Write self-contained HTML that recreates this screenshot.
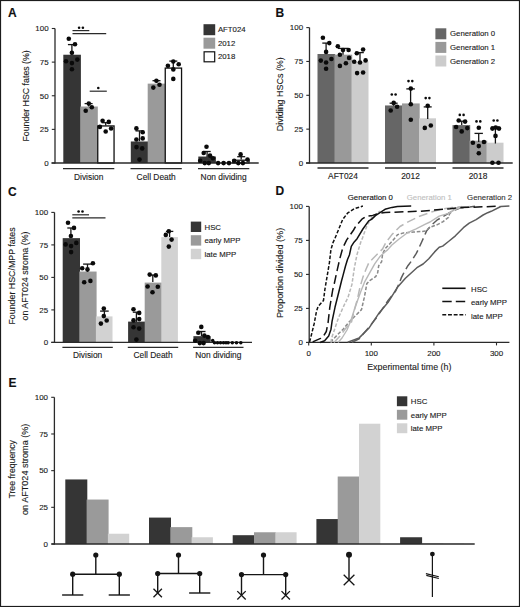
<!DOCTYPE html>
<html><head><meta charset="utf-8"><style>
html,body{margin:0;padding:0;background:#fff;}
body{width:520px;height:607px;overflow:hidden;}
svg{display:block;font-family:"Liberation Sans", sans-serif;}
text{stroke-width:0.12px;}
</style></head><body>
<svg width="520" height="607" viewBox="0 0 520 607">
<rect x="0" y="0" width="520" height="607" fill="#fff"/>
<text x="8.00" y="16.60" font-size="12" text-anchor="start" fill="#111" stroke="#111" font-weight="bold" >A</text>
<text x="275.50" y="16.80" font-size="12" text-anchor="start" fill="#111" stroke="#111" font-weight="bold" >B</text>
<text x="8.00" y="195.80" font-size="12" text-anchor="start" fill="#111" stroke="#111" font-weight="bold" >C</text>
<text x="275.50" y="195.40" font-size="12" text-anchor="start" fill="#111" stroke="#111" font-weight="bold" >D</text>
<text x="8.50" y="386.60" font-size="12" text-anchor="start" fill="#111" stroke="#111" font-weight="bold" >E</text>
<rect x="63.30" y="54.73" width="17.60" height="108.27" fill="#353535"/>
<rect x="80.20" y="106.51" width="17.60" height="56.49" fill="#9a9a9a"/>
<rect x="97.75" y="125.94" width="16.30" height="37.06" fill="#ffffff" stroke="#111" stroke-width="1.3"/>
<rect x="130.80" y="141.48" width="17.60" height="21.52" fill="#353535"/>
<rect x="147.70" y="83.64" width="17.60" height="79.36" fill="#9a9a9a"/>
<rect x="165.25" y="68.10" width="16.30" height="94.90" fill="#ffffff" stroke="#111" stroke-width="1.3"/>
<rect x="198.30" y="156.54" width="17.60" height="6.46" fill="#353535"/>
<rect x="215.20" y="163.00" width="17.60" height="0.00" fill="#9a9a9a"/>
<rect x="232.75" y="160.24" width="16.30" height="2.76" fill="#ffffff" stroke="#111" stroke-width="1.3"/>
<line x1="51.50" y1="163.00" x2="258.70" y2="163.00" stroke="#2a2a2a" stroke-width="1.3" />
<line x1="55.00" y1="28.50" x2="55.00" y2="163.60" stroke="#2a2a2a" stroke-width="1.3" />
<line x1="51.80" y1="163.00" x2="55.00" y2="163.00" stroke="#2a2a2a" stroke-width="1.1" />
<text x="48.60" y="165.80" font-size="7.95" text-anchor="end" fill="#1a1a1a" stroke="#1a1a1a" font-weight="normal" >0</text>
<line x1="51.80" y1="129.38" x2="55.00" y2="129.38" stroke="#2a2a2a" stroke-width="1.1" />
<text x="48.60" y="132.18" font-size="7.95" text-anchor="end" fill="#1a1a1a" stroke="#1a1a1a" font-weight="normal" >25</text>
<line x1="51.80" y1="95.75" x2="55.00" y2="95.75" stroke="#2a2a2a" stroke-width="1.1" />
<text x="48.60" y="98.55" font-size="7.95" text-anchor="end" fill="#1a1a1a" stroke="#1a1a1a" font-weight="normal" >50</text>
<line x1="51.80" y1="62.12" x2="55.00" y2="62.12" stroke="#2a2a2a" stroke-width="1.1" />
<text x="48.60" y="64.92" font-size="7.95" text-anchor="end" fill="#1a1a1a" stroke="#1a1a1a" font-weight="normal" >75</text>
<line x1="51.80" y1="28.50" x2="55.00" y2="28.50" stroke="#2a2a2a" stroke-width="1.1" />
<text x="48.60" y="31.30" font-size="7.95" text-anchor="end" fill="#1a1a1a" stroke="#1a1a1a" font-weight="normal" >100</text>
<line x1="63.00" y1="168.70" x2="114.30" y2="168.70" stroke="#2a2a2a" stroke-width="1.3" />
<text x="88.65" y="179.60" font-size="8.4" text-anchor="middle" fill="#1a1a1a" stroke="#1a1a1a" font-weight="normal" >Division</text>
<line x1="130.50" y1="168.70" x2="181.80" y2="168.70" stroke="#2a2a2a" stroke-width="1.3" />
<text x="156.15" y="179.60" font-size="8.4" text-anchor="middle" fill="#1a1a1a" stroke="#1a1a1a" font-weight="normal" >Cell Death</text>
<line x1="198.00" y1="168.70" x2="249.30" y2="168.70" stroke="#2a2a2a" stroke-width="1.3" />
<text x="223.65" y="179.60" font-size="8.4" text-anchor="middle" fill="#1a1a1a" stroke="#1a1a1a" font-weight="normal" >Non dividing</text>
<text x="0" y="0" font-size="8.8" text-anchor="middle" fill="#1a1a1a" stroke="#1a1a1a" transform="translate(28.50,95.90) rotate(-90)">Founder HSC fates (%)</text>
<rect x="203.50" y="24.20" width="11.70" height="11.00" fill="#353535"/>
<text x="217.90" y="32.40" font-size="7.8" text-anchor="start" fill="#1a1a1a" stroke="#1a1a1a" font-weight="normal" >AFT024</text>
<rect x="203.50" y="37.70" width="11.70" height="11.00" fill="#9a9a9a"/>
<text x="217.90" y="45.90" font-size="7.8" text-anchor="start" fill="#1a1a1a" stroke="#1a1a1a" font-weight="normal" >2012</text>
<rect x="204.10" y="51.80" width="10.60" height="10.00" fill="#fff" stroke="#111" stroke-width="1.2"/>
<text x="217.90" y="59.40" font-size="7.8" text-anchor="start" fill="#1a1a1a" stroke="#1a1a1a" font-weight="normal" >2018</text>
<line x1="72.50" y1="30.60" x2="89.30" y2="30.60" stroke="#2a2a2a" stroke-width="1.2" />
<line x1="72.50" y1="33.60" x2="106.20" y2="33.60" stroke="#2a2a2a" stroke-width="1.2" />
<line x1="89.70" y1="91.20" x2="106.80" y2="91.20" stroke="#2a2a2a" stroke-width="1.2" />
<rect x="317.50" y="54.00" width="17.70" height="109.00" fill="#666666"/>
<rect x="334.50" y="54.68" width="17.70" height="108.32" fill="#999999"/>
<rect x="351.50" y="61.45" width="17.00" height="101.55" fill="#cccccc"/>
<rect x="385.00" y="105.45" width="17.70" height="57.55" fill="#666666"/>
<rect x="402.00" y="103.42" width="17.70" height="59.58" fill="#999999"/>
<rect x="419.00" y="118.32" width="17.00" height="44.68" fill="#cccccc"/>
<rect x="452.50" y="125.09" width="17.70" height="37.91" fill="#666666"/>
<rect x="469.50" y="140.66" width="17.70" height="22.34" fill="#999999"/>
<rect x="486.50" y="142.69" width="17.00" height="20.31" fill="#cccccc"/>
<line x1="306.00" y1="163.00" x2="512.70" y2="163.00" stroke="#2a2a2a" stroke-width="1.3" />
<line x1="309.50" y1="27.60" x2="309.50" y2="163.60" stroke="#2a2a2a" stroke-width="1.3" />
<line x1="306.30" y1="163.00" x2="309.50" y2="163.00" stroke="#2a2a2a" stroke-width="1.1" />
<text x="303.10" y="165.80" font-size="7.95" text-anchor="end" fill="#1a1a1a" stroke="#1a1a1a" font-weight="normal" >0</text>
<line x1="306.30" y1="129.15" x2="309.50" y2="129.15" stroke="#2a2a2a" stroke-width="1.1" />
<text x="303.10" y="131.95" font-size="7.95" text-anchor="end" fill="#1a1a1a" stroke="#1a1a1a" font-weight="normal" >25</text>
<line x1="306.30" y1="95.30" x2="309.50" y2="95.30" stroke="#2a2a2a" stroke-width="1.1" />
<text x="303.10" y="98.10" font-size="7.95" text-anchor="end" fill="#1a1a1a" stroke="#1a1a1a" font-weight="normal" >50</text>
<line x1="306.30" y1="61.45" x2="309.50" y2="61.45" stroke="#2a2a2a" stroke-width="1.1" />
<text x="303.10" y="64.25" font-size="7.95" text-anchor="end" fill="#1a1a1a" stroke="#1a1a1a" font-weight="normal" >75</text>
<line x1="306.30" y1="27.60" x2="309.50" y2="27.60" stroke="#2a2a2a" stroke-width="1.1" />
<text x="303.10" y="30.40" font-size="7.95" text-anchor="end" fill="#1a1a1a" stroke="#1a1a1a" font-weight="normal" >100</text>
<line x1="317.50" y1="168.00" x2="368.50" y2="168.00" stroke="#2a2a2a" stroke-width="1.3" />
<text x="343.00" y="178.60" font-size="8.4" text-anchor="middle" fill="#1a1a1a" stroke="#1a1a1a" font-weight="normal" >AFT024</text>
<line x1="385.00" y1="168.00" x2="436.00" y2="168.00" stroke="#2a2a2a" stroke-width="1.3" />
<text x="410.50" y="178.60" font-size="8.4" text-anchor="middle" fill="#1a1a1a" stroke="#1a1a1a" font-weight="normal" >2012</text>
<line x1="452.50" y1="168.00" x2="503.50" y2="168.00" stroke="#2a2a2a" stroke-width="1.3" />
<text x="478.00" y="178.60" font-size="8.4" text-anchor="middle" fill="#1a1a1a" stroke="#1a1a1a" font-weight="normal" >2018</text>
<text x="0" y="0" font-size="8.95" text-anchor="middle" fill="#1a1a1a" stroke="#1a1a1a" transform="translate(282.50,94.20) rotate(-90)">Dividing HSCs (%)</text>
<rect x="435.40" y="28.30" width="10.90" height="11.00" fill="#666666"/>
<text x="450.00" y="36.40" font-size="7.8" text-anchor="start" fill="#1a1a1a" stroke="#1a1a1a" font-weight="normal" >Generation 0</text>
<rect x="435.40" y="41.90" width="10.90" height="11.00" fill="#999999"/>
<text x="450.00" y="50.00" font-size="7.8" text-anchor="start" fill="#1a1a1a" stroke="#1a1a1a" font-weight="normal" >Generation 1</text>
<rect x="435.40" y="55.50" width="10.90" height="11.00" fill="#cccccc"/>
<text x="450.00" y="63.60" font-size="7.8" text-anchor="start" fill="#1a1a1a" stroke="#1a1a1a" font-weight="normal" >Generation 2</text>
<rect x="62.70" y="238.14" width="17.30" height="104.26" fill="#353535"/>
<rect x="79.30" y="271.55" width="17.30" height="70.85" fill="#9a9a9a"/>
<rect x="95.90" y="316.40" width="16.60" height="26.00" fill="#d2d2d2"/>
<rect x="128.10" y="321.60" width="17.30" height="20.80" fill="#353535"/>
<rect x="144.70" y="282.60" width="17.30" height="59.80" fill="#9a9a9a"/>
<rect x="161.30" y="237.10" width="16.60" height="105.30" fill="#d2d2d2"/>
<rect x="193.40" y="336.16" width="17.30" height="6.24" fill="#353535"/>
<rect x="210.00" y="341.62" width="17.30" height="0.78" fill="#9a9a9a"/>
<rect x="226.60" y="341.88" width="16.60" height="0.52" fill="#d2d2d2"/>
<line x1="51.30" y1="342.40" x2="252.00" y2="342.40" stroke="#2a2a2a" stroke-width="1.3" />
<line x1="54.50" y1="212.40" x2="54.50" y2="343.00" stroke="#2a2a2a" stroke-width="1.3" />
<line x1="51.30" y1="342.40" x2="54.50" y2="342.40" stroke="#2a2a2a" stroke-width="1.1" />
<text x="48.10" y="345.20" font-size="7.95" text-anchor="end" fill="#1a1a1a" stroke="#1a1a1a" font-weight="normal" >0</text>
<line x1="51.30" y1="309.90" x2="54.50" y2="309.90" stroke="#2a2a2a" stroke-width="1.1" />
<text x="48.10" y="312.70" font-size="7.95" text-anchor="end" fill="#1a1a1a" stroke="#1a1a1a" font-weight="normal" >25</text>
<line x1="51.30" y1="277.40" x2="54.50" y2="277.40" stroke="#2a2a2a" stroke-width="1.1" />
<text x="48.10" y="280.20" font-size="7.95" text-anchor="end" fill="#1a1a1a" stroke="#1a1a1a" font-weight="normal" >50</text>
<line x1="51.30" y1="244.90" x2="54.50" y2="244.90" stroke="#2a2a2a" stroke-width="1.1" />
<text x="48.10" y="247.70" font-size="7.95" text-anchor="end" fill="#1a1a1a" stroke="#1a1a1a" font-weight="normal" >75</text>
<line x1="51.30" y1="212.40" x2="54.50" y2="212.40" stroke="#2a2a2a" stroke-width="1.1" />
<text x="48.10" y="215.20" font-size="7.95" text-anchor="end" fill="#1a1a1a" stroke="#1a1a1a" font-weight="normal" >100</text>
<line x1="62.40" y1="347.40" x2="112.80" y2="347.40" stroke="#2a2a2a" stroke-width="1.3" />
<text x="87.60" y="358.00" font-size="8.4" text-anchor="middle" fill="#1a1a1a" stroke="#1a1a1a" font-weight="normal" >Division</text>
<line x1="127.80" y1="347.40" x2="178.20" y2="347.40" stroke="#2a2a2a" stroke-width="1.3" />
<text x="153.00" y="358.00" font-size="8.4" text-anchor="middle" fill="#1a1a1a" stroke="#1a1a1a" font-weight="normal" >Cell Death</text>
<line x1="193.10" y1="347.40" x2="243.50" y2="347.40" stroke="#2a2a2a" stroke-width="1.3" />
<text x="218.30" y="358.00" font-size="8.4" text-anchor="middle" fill="#1a1a1a" stroke="#1a1a1a" font-weight="normal" >Non dividing</text>
<text x="0" y="0" font-size="8.85" text-anchor="middle" fill="#1a1a1a" stroke="#1a1a1a" transform="translate(15.20,276.00) rotate(-90)">Founder HSC/MPP fates</text>
<text x="0" y="0" font-size="8.85" text-anchor="middle" fill="#1a1a1a" stroke="#1a1a1a" transform="translate(27.80,276.00) rotate(-90)">on AFT024 stroma (%)</text>
<rect x="190.80" y="221.60" width="10.40" height="10.40" fill="#353535"/>
<text x="204.50" y="229.50" font-size="7.8" text-anchor="start" fill="#1a1a1a" stroke="#1a1a1a" font-weight="normal" >HSC</text>
<rect x="190.80" y="235.20" width="10.40" height="10.40" fill="#9a9a9a"/>
<text x="204.50" y="243.10" font-size="7.8" text-anchor="start" fill="#1a1a1a" stroke="#1a1a1a" font-weight="normal" >early MPP</text>
<rect x="190.80" y="248.80" width="10.40" height="10.40" fill="#d2d2d2"/>
<text x="204.50" y="256.70" font-size="7.8" text-anchor="start" fill="#1a1a1a" stroke="#1a1a1a" font-weight="normal" >late MPP</text>
<line x1="72.30" y1="214.80" x2="89.00" y2="214.80" stroke="#2a2a2a" stroke-width="1.2" />
<line x1="72.30" y1="217.90" x2="105.50" y2="217.90" stroke="#2a2a2a" stroke-width="1.2" />
<line x1="308.70" y1="342.40" x2="509.40" y2="342.40" stroke="#2a2a2a" stroke-width="1.3" />
<line x1="309.20" y1="206.40" x2="309.20" y2="343.00" stroke="#2a2a2a" stroke-width="1.3" />
<line x1="306.00" y1="342.40" x2="309.20" y2="342.40" stroke="#2a2a2a" stroke-width="1.1" />
<text x="302.80" y="345.20" font-size="7.95" text-anchor="end" fill="#1a1a1a" stroke="#1a1a1a" font-weight="normal" >0</text>
<line x1="306.00" y1="308.40" x2="309.20" y2="308.40" stroke="#2a2a2a" stroke-width="1.1" />
<text x="302.80" y="311.20" font-size="7.95" text-anchor="end" fill="#1a1a1a" stroke="#1a1a1a" font-weight="normal" >25</text>
<line x1="306.00" y1="274.40" x2="309.20" y2="274.40" stroke="#2a2a2a" stroke-width="1.1" />
<text x="302.80" y="277.20" font-size="7.95" text-anchor="end" fill="#1a1a1a" stroke="#1a1a1a" font-weight="normal" >50</text>
<line x1="306.00" y1="240.40" x2="309.20" y2="240.40" stroke="#2a2a2a" stroke-width="1.1" />
<text x="302.80" y="243.20" font-size="7.95" text-anchor="end" fill="#1a1a1a" stroke="#1a1a1a" font-weight="normal" >75</text>
<line x1="306.00" y1="206.40" x2="309.20" y2="206.40" stroke="#2a2a2a" stroke-width="1.1" />
<text x="302.80" y="209.20" font-size="7.95" text-anchor="end" fill="#1a1a1a" stroke="#1a1a1a" font-weight="normal" >100</text>
<line x1="308.70" y1="342.40" x2="308.70" y2="345.40" stroke="#2a2a2a" stroke-width="1.1" />
<text x="308.70" y="355.80" font-size="7.95" text-anchor="middle" fill="#1a1a1a" stroke="#1a1a1a" font-weight="normal" >0</text>
<line x1="371.30" y1="342.40" x2="371.30" y2="345.40" stroke="#2a2a2a" stroke-width="1.1" />
<text x="371.30" y="355.80" font-size="7.95" text-anchor="middle" fill="#1a1a1a" stroke="#1a1a1a" font-weight="normal" >100</text>
<line x1="433.90" y1="342.40" x2="433.90" y2="345.40" stroke="#2a2a2a" stroke-width="1.1" />
<text x="433.90" y="355.80" font-size="7.95" text-anchor="middle" fill="#1a1a1a" stroke="#1a1a1a" font-weight="normal" >200</text>
<line x1="496.50" y1="342.40" x2="496.50" y2="345.40" stroke="#2a2a2a" stroke-width="1.1" />
<text x="496.50" y="355.80" font-size="7.95" text-anchor="middle" fill="#1a1a1a" stroke="#1a1a1a" font-weight="normal" >300</text>
<text x="409.30" y="370.30" font-size="9.8" text-anchor="middle" fill="#1a1a1a" stroke="#1a1a1a" font-weight="normal" textLength="84.2" lengthAdjust="spacingAndGlyphs">Experimental time (h)</text>
<text x="0" y="0" font-size="9.15" text-anchor="middle" fill="#1a1a1a" stroke="#1a1a1a" transform="translate(282.60,272.90) rotate(-90)">Proportion divided (%)</text>
<text x="347.80" y="200.40" font-size="7.8" text-anchor="start" fill="#111" stroke="#111" font-weight="normal" >Generation 0</text>
<text x="406.80" y="200.40" font-size="7.8" text-anchor="start" fill="#c0c0c0" stroke="#c0c0c0" font-weight="normal" >Generation 1</text>
<text x="467.10" y="200.00" font-size="7.8" text-anchor="start" fill="#333" stroke="#333" font-weight="normal" >Generation 2</text>
<line x1="442.30" y1="288.30" x2="465.60" y2="288.30" stroke="#111" stroke-width="1.6" />
<line x1="442.30" y1="301.50" x2="465.20" y2="301.50" stroke="#111" stroke-width="1.6" stroke-dasharray="9.4 4.1"/>
<line x1="442.30" y1="314.80" x2="465.70" y2="314.80" stroke="#111" stroke-width="1.6" stroke-dasharray="3.9 1.8"/>
<text x="471.00" y="291.70" font-size="7.8" text-anchor="start" fill="#1a1a1a" stroke="#1a1a1a" font-weight="normal" >HSC</text>
<text x="471.00" y="305.40" font-size="7.8" text-anchor="start" fill="#1a1a1a" stroke="#1a1a1a" font-weight="normal" >early MPP</text>
<text x="471.00" y="318.70" font-size="7.8" text-anchor="start" fill="#1a1a1a" stroke="#1a1a1a" font-weight="normal" >late MPP</text>
<path d="M347.70,342.20 L359.20,337.90 L368.80,328.30 L378.50,313.80 L388.10,302.30 L397.70,286.90 L405.40,278.30 L416.90,267.70 L423.10,264.00 L428.80,258.80 L434.60,251.90 L439.20,247.30 L442.70,246.10 L448.50,241.50 L455.40,235.80 L463.40,227.70 L469.20,223.10 L476.10,219.60 L483.10,215.00 L487.70,212.70 L491.20,211.30 L500.80,206.50 L509.40,206.00" fill="none" stroke="#5c5c5c" stroke-width="1.5" stroke-linejoin="round"/>
<path d="M352.00,342.20 L359.20,338.80 L368.80,327.30 L376.50,317.70 L388.10,300.40 L395.80,290.80 L399.50,282.60 L401.40,277.60 L404.40,271.70 L407.90,265.70 L411.30,261.30 L416.30,253.40 L418.30,249.40 L421.90,241.50 L426.50,231.10 L431.10,225.40 L436.90,220.20 L443.80,216.10 L449.60,212.70 L454.20,210.40 L460.00,208.10 L475.00,206.30" fill="none" stroke="#5c5c5c" stroke-width="1.5" stroke-linejoin="round" stroke-dasharray="9.0 4.2"/>
<path d="M331.00,342.50 L332.70,339.60 L337.30,335.00 L343.10,329.20 L348.80,322.30 L354.60,316.50 L359.20,311.90 L361.50,309.60 L363.00,303.00 L364.30,297.40 L365.80,289.50 L366.80,283.60 L369.80,280.60 L375.70,276.60 L377.70,272.70 L378.70,265.70 L381.60,261.80 L382.60,253.90 L385.50,248.30 L391.90,241.50 L397.70,234.60 L403.50,232.90 L413.80,232.10 L425.40,231.10 L430.00,227.30 L436.90,224.80 L442.70,221.90 L448.50,217.30 L449.60,213.80 L451.90,211.50 L455.00,208.50 L462.00,206.50" fill="none" stroke="#8a8a8a" stroke-width="1.5" stroke-linejoin="round" stroke-dasharray="3.6 1.8"/>
<path d="M338.00,342.50 L342.00,338.00 L347.00,330.00 L351.10,320.00 L354.00,310.80 L357.90,299.40 L360.80,291.50 L364.80,281.60 L369.80,272.70 L374.70,263.80 L379.70,256.80 L385.00,251.90 L387.60,249.90 L391.90,245.00 L398.80,239.20 L408.10,232.30 L416.10,228.80 L425.40,224.20 L430.00,222.00 L439.20,216.10 L448.50,213.30 L453.10,210.40 L460.00,207.60 L470.00,206.50" fill="none" stroke="#b8b8b8" stroke-width="1.4" stroke-linejoin="round"/>
<path d="M334.00,342.50 L340.00,336.00 L346.00,328.00 L351.50,322.00 L354.00,311.00 L357.40,299.40 L359.90,287.50 L362.80,277.60 L365.80,269.70 L368.80,262.80 L373.70,257.80 L382.60,248.90 L386.00,242.30 L391.90,234.60 L400.00,226.50 L408.10,221.90 L419.60,216.20 L430.00,212.50 L440.00,209.50 L452.00,207.50 L470.00,206.50" fill="none" stroke="#b8b8b8" stroke-width="1.5" stroke-linejoin="round" stroke-dasharray="9.0 4.2"/>
<path d="M331.00,342.50 L331.50,338.40 L335.00,328.10 L338.50,317.70 L344.20,305.00 L348.00,297.40 L351.90,284.60 L354.40,267.70 L356.90,254.90 L360.80,242.00 L362.50,238.00 L365.00,230.80 L367.30,225.00 L372.00,217.00 L380.00,211.00" fill="none" stroke="#b8b8b8" stroke-width="1.5" stroke-linejoin="round" stroke-dasharray="3.6 1.8"/>
<path d="M309.60,341.90 L311.20,335.80 L314.20,323.50 L316.50,311.20 L318.10,306.50 L323.50,300.40 L324.90,289.40 L327.40,274.60 L329.40,262.70 L330.90,249.80 L332.90,242.90 L335.00,238.20 L338.80,229.00 L342.70,219.40 L347.50,213.20 L354.20,208.80 L362.90,206.00" fill="none" stroke="#111111" stroke-width="1.5" stroke-linejoin="round" stroke-dasharray="3.6 1.8"/>
<path d="M312.70,341.90 L320.60,338.40 L323.50,336.10 L326.30,331.50 L328.10,322.30 L329.80,307.30 L332.70,290.00 L334.30,283.50 L337.30,269.60 L339.80,258.70 L342.80,247.80 L346.70,239.90 L353.60,230.00 L355.80,226.20 L361.90,219.20 L366.50,216.20 L372.70,215.40 L378.80,213.50 L385.00,212.50 L420.00,211.20 L450.00,208.70 L460.00,207.60 L500.00,206.20" fill="none" stroke="#111111" stroke-width="1.5" stroke-linejoin="round" stroke-dasharray="9.0 4.2"/>
<path d="M320.00,342.50 L324.60,340.80 L328.70,336.10 L331.00,329.20 L332.10,321.10 L335.00,307.30 L338.80,292.00 L341.50,281.00 L343.10,275.10 L345.50,266.00 L347.50,259.50 L349.40,255.00 L351.30,246.30 L354.00,242.20 L357.10,238.70 L362.90,229.00 L368.70,220.90 L371.50,219.40 L375.40,215.60 L385.00,209.30 L391.90,207.40 L397.40,206.50 L411.20,206.10" fill="none" stroke="#111111" stroke-width="1.5" stroke-linejoin="round"/>
<rect x="65.30" y="479.45" width="22.00" height="64.55" fill="#353535"/>
<rect x="86.60" y="499.55" width="22.00" height="44.45" fill="#9a9a9a"/>
<rect x="107.90" y="533.73" width="21.30" height="10.27" fill="#d2d2d2"/>
<rect x="149.00" y="517.59" width="22.00" height="26.41" fill="#353535"/>
<rect x="170.30" y="527.13" width="22.00" height="16.87" fill="#9a9a9a"/>
<rect x="191.60" y="537.25" width="21.30" height="6.75" fill="#d2d2d2"/>
<rect x="232.70" y="535.20" width="22.00" height="8.80" fill="#353535"/>
<rect x="254.00" y="532.26" width="22.00" height="11.74" fill="#9a9a9a"/>
<rect x="275.30" y="532.26" width="21.30" height="11.74" fill="#d2d2d2"/>
<rect x="316.40" y="519.06" width="22.00" height="24.94" fill="#353535"/>
<rect x="337.70" y="476.52" width="22.00" height="67.48" fill="#9a9a9a"/>
<rect x="359.00" y="423.71" width="21.30" height="120.29" fill="#d2d2d2"/>
<rect x="400.10" y="537.25" width="22.00" height="6.75" fill="#353535"/>
<rect x="421.40" y="543.56" width="22.00" height="0.44" fill="#9a9a9a"/>
<rect x="442.70" y="543.56" width="21.30" height="0.44" fill="#d2d2d2"/>
<line x1="51.50" y1="544.00" x2="474.70" y2="544.00" stroke="#2a2a2a" stroke-width="1.3" />
<line x1="54.40" y1="397.30" x2="54.40" y2="544.60" stroke="#2a2a2a" stroke-width="1.3" />
<line x1="51.20" y1="544.00" x2="54.40" y2="544.00" stroke="#2a2a2a" stroke-width="1.1" />
<text x="48.00" y="546.80" font-size="7.95" text-anchor="end" fill="#1a1a1a" stroke="#1a1a1a" font-weight="normal" >0</text>
<line x1="51.20" y1="507.32" x2="54.40" y2="507.32" stroke="#2a2a2a" stroke-width="1.1" />
<text x="48.00" y="510.12" font-size="7.95" text-anchor="end" fill="#1a1a1a" stroke="#1a1a1a" font-weight="normal" >25</text>
<line x1="51.20" y1="470.65" x2="54.40" y2="470.65" stroke="#2a2a2a" stroke-width="1.1" />
<text x="48.00" y="473.45" font-size="7.95" text-anchor="end" fill="#1a1a1a" stroke="#1a1a1a" font-weight="normal" >50</text>
<line x1="51.20" y1="433.98" x2="54.40" y2="433.98" stroke="#2a2a2a" stroke-width="1.1" />
<text x="48.00" y="436.78" font-size="7.95" text-anchor="end" fill="#1a1a1a" stroke="#1a1a1a" font-weight="normal" >75</text>
<line x1="51.20" y1="397.30" x2="54.40" y2="397.30" stroke="#2a2a2a" stroke-width="1.1" />
<text x="48.00" y="400.10" font-size="7.95" text-anchor="end" fill="#1a1a1a" stroke="#1a1a1a" font-weight="normal" >100</text>
<text x="0" y="0" font-size="8.75" text-anchor="middle" fill="#1a1a1a" stroke="#1a1a1a" transform="translate(15.18,469.30) rotate(-90)">Tree frequency</text>
<text x="0" y="0" font-size="9.08" text-anchor="middle" fill="#1a1a1a" stroke="#1a1a1a" transform="translate(28.03,469.30) rotate(-90)">on AFT024 stroma (%)</text>
<rect x="396.90" y="396.30" width="10.40" height="9.90" fill="#353535"/>
<text x="410.80" y="404.20" font-size="7.8" text-anchor="start" fill="#1a1a1a" stroke="#1a1a1a" font-weight="normal" >HSC</text>
<rect x="396.90" y="409.80" width="10.40" height="9.90" fill="#9a9a9a"/>
<text x="410.80" y="417.70" font-size="7.8" text-anchor="start" fill="#1a1a1a" stroke="#1a1a1a" font-weight="normal" >early MPP</text>
<rect x="396.90" y="423.30" width="10.40" height="9.90" fill="#d2d2d2"/>
<text x="410.80" y="431.20" font-size="7.8" text-anchor="start" fill="#1a1a1a" stroke="#1a1a1a" font-weight="normal" >late MPP</text>
<line x1="95.80" y1="555.00" x2="95.80" y2="574.20" stroke="#151515" stroke-width="1.4" />
<line x1="72.70" y1="574.20" x2="119.30" y2="574.20" stroke="#151515" stroke-width="1.4" />
<circle cx="95.8" cy="555.0" r="2.6" fill="#151515"/>
<circle cx="72.7" cy="574.2" r="2.6" fill="#151515"/>
<circle cx="119.3" cy="574.2" r="2.6" fill="#151515"/>
<line x1="72.70" y1="574.20" x2="72.70" y2="595.00" stroke="#151515" stroke-width="1.4" />
<line x1="62.10" y1="595.00" x2="83.30" y2="595.00" stroke="#151515" stroke-width="1.4" />
<line x1="119.30" y1="574.20" x2="119.30" y2="595.00" stroke="#151515" stroke-width="1.4" />
<line x1="108.70" y1="595.00" x2="129.90" y2="595.00" stroke="#151515" stroke-width="1.4" />
<line x1="178.50" y1="555.00" x2="178.50" y2="573.50" stroke="#151515" stroke-width="1.4" />
<line x1="157.70" y1="573.50" x2="199.70" y2="573.50" stroke="#151515" stroke-width="1.4" />
<circle cx="178.5" cy="555.0" r="2.6" fill="#151515"/>
<circle cx="157.7" cy="573.5" r="2.6" fill="#151515"/>
<circle cx="199.7" cy="573.5" r="2.6" fill="#151515"/>
<line x1="157.70" y1="573.50" x2="157.70" y2="593.00" stroke="#151515" stroke-width="1.4" />
<line x1="153.50" y1="588.80" x2="161.90" y2="597.20" stroke="#151515" stroke-width="1.3" />
<line x1="153.50" y1="597.20" x2="161.90" y2="588.80" stroke="#151515" stroke-width="1.3" />
<line x1="199.70" y1="573.50" x2="199.70" y2="593.00" stroke="#151515" stroke-width="1.4" />
<line x1="189.10" y1="593.00" x2="210.30" y2="593.00" stroke="#151515" stroke-width="1.4" />
<line x1="263.50" y1="555.00" x2="263.50" y2="574.60" stroke="#151515" stroke-width="1.4" />
<line x1="241.50" y1="574.60" x2="285.70" y2="574.60" stroke="#151515" stroke-width="1.4" />
<circle cx="263.5" cy="555.0" r="2.6" fill="#151515"/>
<circle cx="241.5" cy="574.6" r="2.6" fill="#151515"/>
<circle cx="285.7" cy="574.6" r="2.6" fill="#151515"/>
<line x1="241.50" y1="574.60" x2="241.50" y2="595.30" stroke="#151515" stroke-width="1.4" />
<line x1="237.30" y1="591.10" x2="245.70" y2="599.50" stroke="#151515" stroke-width="1.3" />
<line x1="237.30" y1="599.50" x2="245.70" y2="591.10" stroke="#151515" stroke-width="1.3" />
<line x1="285.70" y1="574.60" x2="285.70" y2="595.30" stroke="#151515" stroke-width="1.4" />
<line x1="281.50" y1="591.10" x2="289.90" y2="599.50" stroke="#151515" stroke-width="1.3" />
<line x1="281.50" y1="599.50" x2="289.90" y2="591.10" stroke="#151515" stroke-width="1.3" />
<line x1="349.00" y1="554.80" x2="349.00" y2="580.00" stroke="#151515" stroke-width="1.4" />
<circle cx="349.0" cy="554.8" r="3.0" fill="#151515"/>
<line x1="343.70" y1="574.70" x2="354.40" y2="585.30" stroke="#151515" stroke-width="1.3" />
<line x1="343.70" y1="585.30" x2="354.40" y2="574.70" stroke="#151515" stroke-width="1.3" />
<line x1="432.40" y1="554.10" x2="432.40" y2="597.10" stroke="#151515" stroke-width="1.2" />
<circle cx="432.4" cy="554.1" r="2.4" fill="#151515"/>
<line x1="425.90" y1="573.60" x2="438.80" y2="576.70" stroke="#151515" stroke-width="1.1" />
<line x1="426.30" y1="575.40" x2="438.80" y2="578.50" stroke="#151515" stroke-width="1.1" />
<line x1="71.90" y1="44.60" x2="71.90" y2="54.80" stroke="#151515" stroke-width="1.3" />
<line x1="67.90" y1="44.60" x2="75.90" y2="44.60" stroke="#151515" stroke-width="1.3" />
<line x1="88.60" y1="103.60" x2="88.60" y2="106.40" stroke="#151515" stroke-width="1.3" />
<line x1="84.60" y1="103.60" x2="92.60" y2="103.60" stroke="#151515" stroke-width="1.3" />
<line x1="105.70" y1="122.70" x2="105.70" y2="125.40" stroke="#151515" stroke-width="1.3" />
<line x1="101.70" y1="122.70" x2="109.70" y2="122.70" stroke="#151515" stroke-width="1.3" />
<line x1="139.50" y1="130.90" x2="139.50" y2="141.20" stroke="#151515" stroke-width="1.3" />
<line x1="135.50" y1="130.90" x2="143.50" y2="130.90" stroke="#151515" stroke-width="1.3" />
<line x1="156.50" y1="80.70" x2="156.50" y2="83.00" stroke="#151515" stroke-width="1.3" />
<line x1="152.50" y1="80.70" x2="160.50" y2="80.70" stroke="#151515" stroke-width="1.3" />
<line x1="173.30" y1="61.10" x2="173.30" y2="67.40" stroke="#151515" stroke-width="1.3" />
<line x1="169.30" y1="61.10" x2="177.30" y2="61.10" stroke="#151515" stroke-width="1.3" />
<line x1="207.10" y1="151.50" x2="207.10" y2="157.10" stroke="#151515" stroke-width="1.3" />
<line x1="203.50" y1="151.50" x2="210.70" y2="151.50" stroke="#151515" stroke-width="1.3" />
<line x1="241.20" y1="156.70" x2="241.20" y2="159.60" stroke="#151515" stroke-width="1.3" />
<line x1="237.20" y1="156.70" x2="245.20" y2="156.70" stroke="#151515" stroke-width="1.3" />
<line x1="326.10" y1="43.10" x2="326.10" y2="54.00" stroke="#151515" stroke-width="1.3" />
<line x1="322.30" y1="43.10" x2="329.90" y2="43.10" stroke="#151515" stroke-width="1.3" />
<line x1="343.00" y1="48.40" x2="343.00" y2="54.80" stroke="#151515" stroke-width="1.3" />
<line x1="338.00" y1="48.40" x2="348.00" y2="48.40" stroke="#151515" stroke-width="1.3" />
<line x1="360.00" y1="52.60" x2="360.00" y2="62.50" stroke="#151515" stroke-width="1.3" />
<line x1="356.20" y1="52.60" x2="363.80" y2="52.60" stroke="#151515" stroke-width="1.3" />
<line x1="393.60" y1="103.20" x2="393.60" y2="105.70" stroke="#151515" stroke-width="1.3" />
<line x1="389.60" y1="103.20" x2="397.60" y2="103.20" stroke="#151515" stroke-width="1.3" />
<line x1="410.60" y1="88.90" x2="410.60" y2="104.00" stroke="#151515" stroke-width="1.3" />
<line x1="406.30" y1="88.90" x2="414.90" y2="88.90" stroke="#151515" stroke-width="1.3" />
<line x1="427.70" y1="106.90" x2="427.70" y2="119.00" stroke="#151515" stroke-width="1.3" />
<line x1="423.70" y1="106.90" x2="431.70" y2="106.90" stroke="#151515" stroke-width="1.3" />
<line x1="461.70" y1="121.20" x2="461.70" y2="124.90" stroke="#151515" stroke-width="1.3" />
<line x1="457.70" y1="121.20" x2="465.70" y2="121.20" stroke="#151515" stroke-width="1.3" />
<line x1="478.70" y1="133.40" x2="478.70" y2="142.00" stroke="#151515" stroke-width="1.3" />
<line x1="474.50" y1="133.40" x2="482.90" y2="133.40" stroke="#151515" stroke-width="1.3" />
<line x1="495.40" y1="127.00" x2="495.40" y2="143.50" stroke="#151515" stroke-width="1.3" />
<line x1="491.20" y1="127.00" x2="499.60" y2="127.00" stroke="#151515" stroke-width="1.3" />
<line x1="70.90" y1="228.00" x2="70.90" y2="238.10" stroke="#151515" stroke-width="1.3" />
<line x1="67.30" y1="228.00" x2="74.50" y2="228.00" stroke="#151515" stroke-width="1.3" />
<line x1="87.50" y1="264.10" x2="87.50" y2="271.90" stroke="#151515" stroke-width="1.3" />
<line x1="83.10" y1="264.10" x2="91.90" y2="264.10" stroke="#151515" stroke-width="1.3" />
<line x1="104.40" y1="311.10" x2="104.40" y2="316.40" stroke="#151515" stroke-width="1.3" />
<line x1="100.10" y1="311.10" x2="108.70" y2="311.10" stroke="#151515" stroke-width="1.3" />
<line x1="136.40" y1="312.20" x2="136.40" y2="321.90" stroke="#151515" stroke-width="1.3" />
<line x1="132.80" y1="312.20" x2="140.00" y2="312.20" stroke="#151515" stroke-width="1.3" />
<line x1="152.80" y1="275.00" x2="152.80" y2="282.00" stroke="#151515" stroke-width="1.3" />
<line x1="149.40" y1="275.00" x2="156.20" y2="275.00" stroke="#151515" stroke-width="1.3" />
<line x1="169.60" y1="231.40" x2="169.60" y2="237.00" stroke="#151515" stroke-width="1.3" />
<line x1="165.90" y1="231.40" x2="173.30" y2="231.40" stroke="#151515" stroke-width="1.3" />
<line x1="201.50" y1="331.50" x2="201.50" y2="336.10" stroke="#151515" stroke-width="1.3" />
<line x1="197.50" y1="331.50" x2="205.50" y2="331.50" stroke="#151515" stroke-width="1.3" />
<circle cx="68.80" cy="38.80" r="2.3" fill="#0a0a0a"/>
<circle cx="75.00" cy="44.20" r="2.3" fill="#0a0a0a"/>
<circle cx="71.90" cy="52.80" r="2.3" fill="#0a0a0a"/>
<circle cx="66.00" cy="61.20" r="2.3" fill="#0a0a0a"/>
<circle cx="71.90" cy="63.10" r="2.3" fill="#0a0a0a"/>
<circle cx="77.30" cy="59.60" r="2.3" fill="#0a0a0a"/>
<circle cx="71.90" cy="69.20" r="2.3" fill="#0a0a0a"/>
<circle cx="88.80" cy="103.60" r="2.3" fill="#0a0a0a"/>
<circle cx="91.80" cy="107.30" r="2.3" fill="#0a0a0a"/>
<circle cx="85.70" cy="110.80" r="2.3" fill="#0a0a0a"/>
<circle cx="102.60" cy="120.80" r="2.3" fill="#0a0a0a"/>
<circle cx="108.80" cy="121.90" r="2.3" fill="#0a0a0a"/>
<circle cx="99.90" cy="126.90" r="2.3" fill="#0a0a0a"/>
<circle cx="111.10" cy="128.50" r="2.3" fill="#0a0a0a"/>
<circle cx="105.70" cy="131.50" r="2.3" fill="#0a0a0a"/>
<circle cx="136.40" cy="128.40" r="2.3" fill="#0a0a0a"/>
<circle cx="142.70" cy="132.30" r="2.3" fill="#0a0a0a"/>
<circle cx="136.40" cy="139.50" r="2.3" fill="#0a0a0a"/>
<circle cx="142.70" cy="138.40" r="2.3" fill="#0a0a0a"/>
<circle cx="136.50" cy="147.10" r="2.3" fill="#0a0a0a"/>
<circle cx="142.20" cy="148.40" r="2.3" fill="#0a0a0a"/>
<circle cx="139.50" cy="159.60" r="2.3" fill="#0a0a0a"/>
<circle cx="156.40" cy="80.70" r="2.3" fill="#0a0a0a"/>
<circle cx="159.50" cy="84.80" r="2.3" fill="#0a0a0a"/>
<circle cx="153.30" cy="87.60" r="2.3" fill="#0a0a0a"/>
<circle cx="173.30" cy="61.50" r="2.3" fill="#0a0a0a"/>
<circle cx="167.90" cy="65.70" r="2.3" fill="#0a0a0a"/>
<circle cx="178.70" cy="64.20" r="2.3" fill="#0a0a0a"/>
<circle cx="173.30" cy="69.40" r="2.3" fill="#0a0a0a"/>
<circle cx="173.30" cy="78.90" r="2.3" fill="#0a0a0a"/>
<circle cx="206.50" cy="146.70" r="2.3" fill="#0a0a0a"/>
<circle cx="203.70" cy="153.00" r="2.3" fill="#0a0a0a"/>
<circle cx="210.00" cy="155.60" r="2.3" fill="#0a0a0a"/>
<circle cx="212.90" cy="158.20" r="2.3" fill="#0a0a0a"/>
<circle cx="200.20" cy="160.80" r="2.3" fill="#0a0a0a"/>
<circle cx="204.80" cy="163.10" r="2.3" fill="#0a0a0a"/>
<circle cx="208.80" cy="163.10" r="2.3" fill="#0a0a0a"/>
<circle cx="218.10" cy="163.10" r="2.3" fill="#0a0a0a"/>
<circle cx="223.60" cy="163.10" r="2.3" fill="#0a0a0a"/>
<circle cx="229.00" cy="163.10" r="2.3" fill="#0a0a0a"/>
<circle cx="240.60" cy="154.40" r="2.3" fill="#0a0a0a"/>
<circle cx="234.20" cy="160.80" r="2.3" fill="#0a0a0a"/>
<circle cx="247.50" cy="159.60" r="2.3" fill="#0a0a0a"/>
<circle cx="238.30" cy="163.10" r="2.3" fill="#0a0a0a"/>
<circle cx="242.90" cy="163.10" r="2.3" fill="#0a0a0a"/>
<circle cx="322.90" cy="37.80" r="2.3" fill="#0a0a0a"/>
<circle cx="329.30" cy="43.10" r="2.3" fill="#0a0a0a"/>
<circle cx="326.10" cy="51.90" r="2.3" fill="#0a0a0a"/>
<circle cx="320.80" cy="60.60" r="2.3" fill="#0a0a0a"/>
<circle cx="326.10" cy="62.50" r="2.3" fill="#0a0a0a"/>
<circle cx="331.40" cy="59.00" r="2.3" fill="#0a0a0a"/>
<circle cx="326.10" cy="68.80" r="2.3" fill="#0a0a0a"/>
<circle cx="337.80" cy="46.30" r="2.3" fill="#0a0a0a"/>
<circle cx="343.00" cy="50.00" r="2.3" fill="#0a0a0a"/>
<circle cx="348.60" cy="50.00" r="2.3" fill="#0a0a0a"/>
<circle cx="339.90" cy="54.80" r="2.3" fill="#0a0a0a"/>
<circle cx="349.10" cy="57.90" r="2.3" fill="#0a0a0a"/>
<circle cx="345.90" cy="63.20" r="2.3" fill="#0a0a0a"/>
<circle cx="339.90" cy="65.90" r="2.3" fill="#0a0a0a"/>
<circle cx="363.10" cy="49.50" r="2.3" fill="#0a0a0a"/>
<circle cx="356.80" cy="53.20" r="2.3" fill="#0a0a0a"/>
<circle cx="354.20" cy="61.80" r="2.3" fill="#0a0a0a"/>
<circle cx="360.00" cy="62.50" r="2.3" fill="#0a0a0a"/>
<circle cx="365.60" cy="60.40" r="2.3" fill="#0a0a0a"/>
<circle cx="357.10" cy="73.10" r="2.3" fill="#0a0a0a"/>
<circle cx="363.10" cy="72.50" r="2.3" fill="#0a0a0a"/>
<circle cx="393.70" cy="102.90" r="2.3" fill="#0a0a0a"/>
<circle cx="397.10" cy="106.80" r="2.3" fill="#0a0a0a"/>
<circle cx="390.70" cy="110.50" r="2.3" fill="#0a0a0a"/>
<circle cx="410.80" cy="88.60" r="2.3" fill="#0a0a0a"/>
<circle cx="410.80" cy="104.20" r="2.3" fill="#0a0a0a"/>
<circle cx="410.80" cy="119.70" r="2.3" fill="#0a0a0a"/>
<circle cx="427.70" cy="105.80" r="2.3" fill="#0a0a0a"/>
<circle cx="424.80" cy="127.90" r="2.3" fill="#0a0a0a"/>
<circle cx="430.80" cy="125.50" r="2.3" fill="#0a0a0a"/>
<circle cx="458.70" cy="120.50" r="2.3" fill="#0a0a0a"/>
<circle cx="465.10" cy="121.60" r="2.3" fill="#0a0a0a"/>
<circle cx="456.10" cy="127.00" r="2.3" fill="#0a0a0a"/>
<circle cx="467.30" cy="128.10" r="2.3" fill="#0a0a0a"/>
<circle cx="461.70" cy="131.40" r="2.3" fill="#0a0a0a"/>
<circle cx="478.80" cy="127.80" r="2.3" fill="#0a0a0a"/>
<circle cx="472.90" cy="142.80" r="2.3" fill="#0a0a0a"/>
<circle cx="484.00" cy="142.00" r="2.3" fill="#0a0a0a"/>
<circle cx="478.80" cy="146.10" r="2.3" fill="#0a0a0a"/>
<circle cx="478.80" cy="153.20" r="2.3" fill="#0a0a0a"/>
<circle cx="492.40" cy="128.60" r="2.3" fill="#0a0a0a"/>
<circle cx="499.00" cy="128.60" r="2.3" fill="#0a0a0a"/>
<circle cx="495.70" cy="127.60" r="2.3" fill="#0a0a0a"/>
<circle cx="495.50" cy="135.90" r="2.3" fill="#0a0a0a"/>
<circle cx="492.40" cy="162.80" r="2.3" fill="#0a0a0a"/>
<circle cx="498.50" cy="162.80" r="2.3" fill="#0a0a0a"/>
<circle cx="68.00" cy="222.70" r="2.3" fill="#0a0a0a"/>
<circle cx="74.00" cy="227.90" r="2.3" fill="#0a0a0a"/>
<circle cx="70.90" cy="236.00" r="2.3" fill="#0a0a0a"/>
<circle cx="65.60" cy="244.40" r="2.3" fill="#0a0a0a"/>
<circle cx="76.30" cy="242.90" r="2.3" fill="#0a0a0a"/>
<circle cx="71.10" cy="246.10" r="2.3" fill="#0a0a0a"/>
<circle cx="71.10" cy="252.10" r="2.3" fill="#0a0a0a"/>
<circle cx="92.90" cy="263.20" r="2.3" fill="#0a0a0a"/>
<circle cx="82.20" cy="268.20" r="2.3" fill="#0a0a0a"/>
<circle cx="87.50" cy="269.40" r="2.3" fill="#0a0a0a"/>
<circle cx="84.20" cy="282.20" r="2.3" fill="#0a0a0a"/>
<circle cx="90.40" cy="280.90" r="2.3" fill="#0a0a0a"/>
<circle cx="103.80" cy="308.60" r="2.3" fill="#0a0a0a"/>
<circle cx="103.80" cy="316.10" r="2.3" fill="#0a0a0a"/>
<circle cx="106.70" cy="320.50" r="2.3" fill="#0a0a0a"/>
<circle cx="100.90" cy="323.60" r="2.3" fill="#0a0a0a"/>
<circle cx="133.50" cy="309.20" r="2.3" fill="#0a0a0a"/>
<circle cx="139.20" cy="312.90" r="2.3" fill="#0a0a0a"/>
<circle cx="133.50" cy="320.40" r="2.3" fill="#0a0a0a"/>
<circle cx="139.20" cy="319.10" r="2.3" fill="#0a0a0a"/>
<circle cx="133.50" cy="327.30" r="2.3" fill="#0a0a0a"/>
<circle cx="139.20" cy="328.60" r="2.3" fill="#0a0a0a"/>
<circle cx="136.40" cy="339.60" r="2.3" fill="#0a0a0a"/>
<circle cx="149.70" cy="274.60" r="2.3" fill="#0a0a0a"/>
<circle cx="155.80" cy="275.40" r="2.3" fill="#0a0a0a"/>
<circle cx="147.60" cy="286.50" r="2.3" fill="#0a0a0a"/>
<circle cx="157.80" cy="286.70" r="2.3" fill="#0a0a0a"/>
<circle cx="152.50" cy="292.30" r="2.3" fill="#0a0a0a"/>
<circle cx="168.80" cy="231.20" r="2.3" fill="#0a0a0a"/>
<circle cx="165.80" cy="234.90" r="2.3" fill="#0a0a0a"/>
<circle cx="171.60" cy="239.60" r="2.3" fill="#0a0a0a"/>
<circle cx="168.80" cy="246.60" r="2.3" fill="#0a0a0a"/>
<circle cx="201.30" cy="326.90" r="2.3" fill="#0a0a0a"/>
<circle cx="198.30" cy="332.70" r="2.3" fill="#0a0a0a"/>
<circle cx="204.40" cy="335.60" r="2.3" fill="#0a0a0a"/>
<circle cx="207.90" cy="337.10" r="2.3" fill="#0a0a0a"/>
<circle cx="195.20" cy="340.80" r="2.3" fill="#0a0a0a"/>
<circle cx="199.80" cy="343.10" r="2.3" fill="#0a0a0a"/>
<circle cx="203.60" cy="343.10" r="2.3" fill="#0a0a0a"/>
<circle cx="212.70" cy="340.60" r="1.75" fill="#0a0a0a"/>
<circle cx="214.50" cy="342.80" r="1.75" fill="#0a0a0a"/>
<circle cx="217.50" cy="342.80" r="1.75" fill="#0a0a0a"/>
<circle cx="220.50" cy="342.80" r="1.75" fill="#0a0a0a"/>
<circle cx="223.50" cy="342.80" r="1.75" fill="#0a0a0a"/>
<circle cx="226.00" cy="342.80" r="1.75" fill="#0a0a0a"/>
<circle cx="228.10" cy="342.80" r="1.75" fill="#0a0a0a"/>
<circle cx="232.30" cy="342.80" r="1.75" fill="#0a0a0a"/>
<circle cx="236.50" cy="342.80" r="1.75" fill="#0a0a0a"/>
<circle cx="240.80" cy="342.80" r="1.75" fill="#0a0a0a"/>
<circle cx="391.80" cy="94.50" r="1.3" fill="#0a0a0a"/>
<circle cx="395.60" cy="94.50" r="1.3" fill="#0a0a0a"/>
<circle cx="408.50" cy="81.10" r="1.3" fill="#0a0a0a"/>
<circle cx="412.30" cy="81.10" r="1.3" fill="#0a0a0a"/>
<circle cx="425.70" cy="98.10" r="1.3" fill="#0a0a0a"/>
<circle cx="429.40" cy="98.10" r="1.3" fill="#0a0a0a"/>
<circle cx="459.80" cy="114.90" r="1.3" fill="#0a0a0a"/>
<circle cx="463.60" cy="114.90" r="1.3" fill="#0a0a0a"/>
<circle cx="476.50" cy="121.40" r="1.3" fill="#0a0a0a"/>
<circle cx="480.30" cy="121.40" r="1.3" fill="#0a0a0a"/>
<circle cx="493.70" cy="120.50" r="1.3" fill="#0a0a0a"/>
<circle cx="497.40" cy="120.50" r="1.3" fill="#0a0a0a"/>
<circle cx="79.10" cy="27.80" r="1.3" fill="#0a0a0a"/>
<circle cx="82.90" cy="27.80" r="1.3" fill="#0a0a0a"/>
<circle cx="78.60" cy="211.50" r="1.3" fill="#0a0a0a"/>
<circle cx="82.50" cy="211.50" r="1.3" fill="#0a0a0a"/>
<circle cx="98.30" cy="88.00" r="1.3" fill="#0a0a0a"/>
<rect x="0.5" y="0.5" width="519" height="606" fill="none" stroke="#1c1c1c" stroke-width="1.2"/>
</svg>
</body></html>
